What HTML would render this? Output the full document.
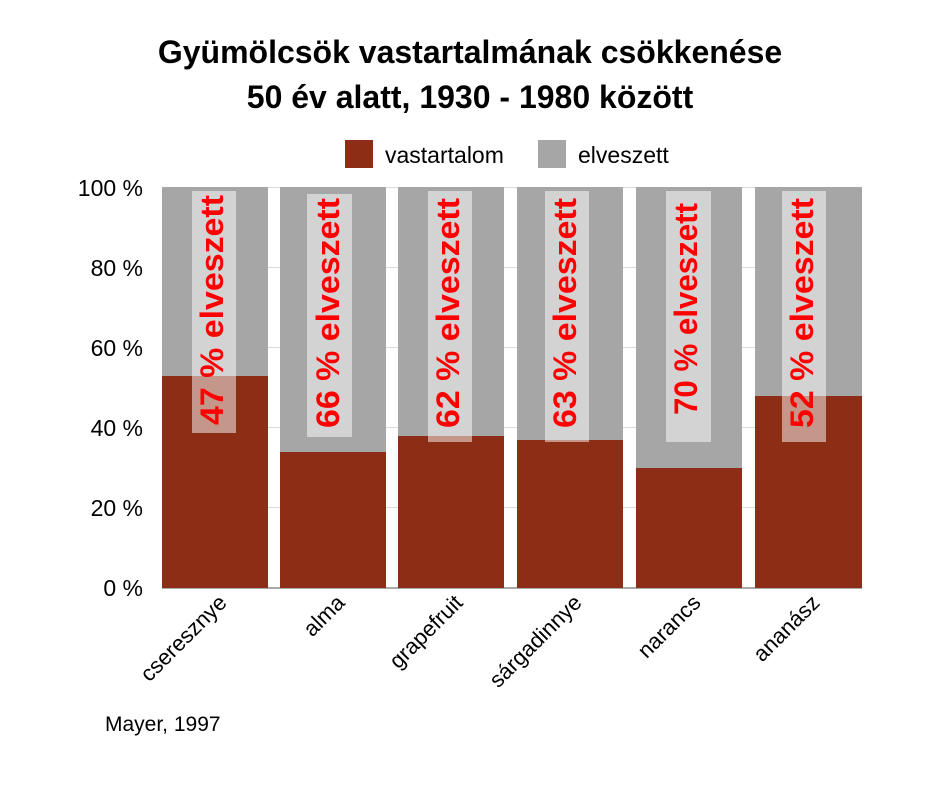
<!DOCTYPE html>
<html><head><meta charset="utf-8"><style>body{margin:0;background:#fff}svg{display:block}</style></head><body>
<svg width="940" height="788" xmlns="http://www.w3.org/2000/svg" font-family="Liberation Sans, Arial, sans-serif">
<text x="470" y="63" font-size="32" font-weight="bold" text-anchor="middle">Gyümölcsök vastartalmának csökkenése</text>
<text x="470" y="108" font-size="32" font-weight="bold" text-anchor="middle">50 év alatt, 1930 - 1980 között</text>
<rect x="345" y="140" width="28" height="28" fill="#8b2e15"/>
<text x="385" y="163" font-size="23">vastartalom</text>
<rect x="538" y="140" width="28" height="28" fill="#a6a6a6"/>
<text x="578" y="163" font-size="23">elveszett</text>
<g stroke="#d9d9d9" stroke-width="1">
<line x1="162" x2="862" y1="187.5" y2="187.5"/><line x1="162" x2="862" y1="267.5" y2="267.5"/>
<line x1="162" x2="862" y1="347.5" y2="347.5"/><line x1="162" x2="862" y1="427.5" y2="427.5"/>
<line x1="162" x2="862" y1="507.5" y2="507.5"/>
</g>
<line x1="162" x2="862" y1="588" y2="588" stroke="#aaa" stroke-width="2"/>
<g font-size="23" text-anchor="end">
<text x="143" y="196">100 %</text><text x="143" y="276">80 %</text><text x="143" y="356">60 %</text>
<text x="143" y="436">40 %</text><text x="143" y="516">20 %</text><text x="143" y="596">0 %</text>
</g>
<g>
<rect x="162" y="187" width="106" height="401" fill="#a6a6a6"/><rect x="162" y="376" width="106" height="212" fill="#8b2e15"/>
<rect x="280" y="187" width="106" height="401" fill="#a6a6a6"/><rect x="280" y="452" width="106" height="136" fill="#8b2e15"/>
<rect x="398" y="187" width="106" height="401" fill="#a6a6a6"/><rect x="398" y="436" width="106" height="152" fill="#8b2e15"/>
<rect x="517" y="187" width="106" height="401" fill="#a6a6a6"/><rect x="517" y="440" width="106" height="148" fill="#8b2e15"/>
<rect x="636" y="187" width="106" height="401" fill="#a6a6a6"/><rect x="636" y="468" width="106" height="120" fill="#8b2e15"/>
<rect x="755" y="187" width="107" height="401" fill="#a6a6a6"/><rect x="755" y="396" width="107" height="192" fill="#8b2e15"/>
</g>
<g fill="#fff" fill-opacity="0.5">
<rect x="192" y="191" width="44" height="242"/><rect x="307" y="194" width="45" height="243"/>
<rect x="428" y="191" width="44" height="251"/><rect x="545" y="191" width="44" height="251"/>
<rect x="666" y="191" width="45" height="251"/><rect x="782" y="191" width="44" height="251"/>
</g>
<g font-size="32" font-weight="bold" fill="#ff0000" text-anchor="middle">
<text transform="translate(223,310) rotate(-90)" textLength="230" lengthAdjust="spacingAndGlyphs">47 % elveszett</text>
<text transform="translate(339,313) rotate(-90)" textLength="230" lengthAdjust="spacingAndGlyphs">66 % elveszett</text>
<text transform="translate(459,313) rotate(-90)" textLength="230" lengthAdjust="spacingAndGlyphs">62 % elveszett</text>
<text transform="translate(576,313) rotate(-90)" textLength="230" lengthAdjust="spacingAndGlyphs">63 % elveszett</text>
<text transform="translate(697,309) rotate(-90)" textLength="212" lengthAdjust="spacingAndGlyphs">70 % elveszett</text>
<text transform="translate(813,313) rotate(-90)" textLength="230" lengthAdjust="spacingAndGlyphs">52 % elveszett</text>
</g>
<g font-size="22" text-anchor="end">
<text transform="translate(228,604) rotate(-45)">cseresznye</text>
<text transform="translate(346,604) rotate(-45)">alma</text>
<text transform="translate(464,604) rotate(-45)">grapefruit</text>
<text transform="translate(583,604) rotate(-45)">sárgadinnye</text>
<text transform="translate(702,604) rotate(-45)">narancs</text>
<text transform="translate(821,604) rotate(-45)">ananász</text>
</g>
<text x="105" y="731" font-size="21">Mayer, 1997</text>
</svg>
</body></html>
